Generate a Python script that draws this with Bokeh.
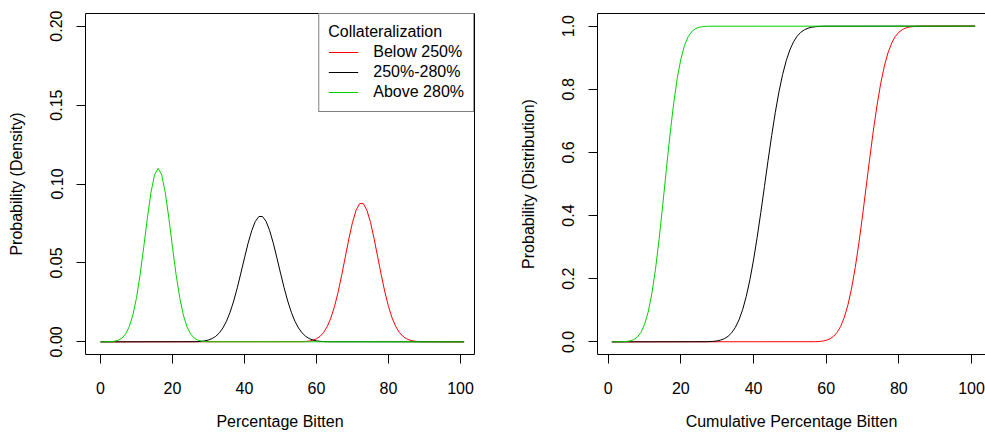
from bokeh.plotting import figure
from bokeh.models import Range1d, FixedTicker, LinearAxis, Legend, LegendItem, NumeralTickFormatter
from bokeh.layouts import row
from bokeh.embed import file_html
from bokeh.resources import INLINE

FONT = "Liberation Sans"

series_labels = ["Below 250%", "250%-280%", "Above 280%"]
series_colors = ["#ff0000", "#000000", "#00d000"]
legend_title = "Collateralization"

x_ticks = [0, 20, 40, 60, 80, 100]
density_ticks = [0.0, 0.05, 0.10, 0.15, 0.20]
cdf_ticks = [0.0, 0.2, 0.4, 0.6, 0.8, 1.0]

# ---- density panel ----
dens_below_x = [0] + list(range(56, 90)) + [101]
dens_below_y = [0.0,
                0.00012, 0.00025, 0.00053, 0.00104, 0.00196, 0.00351, 0.0060, 0.0098, 0.0152, 0.0224,
                0.0315, 0.0422, 0.0538, 0.0654, 0.0757, 0.0834, 0.0876, 0.0876, 0.0834, 0.0757,
                0.0654, 0.0538, 0.0422, 0.0315, 0.0224, 0.0152, 0.0098, 0.0060, 0.00351, 0.00196,
                0.00104, 0.00053, 0.00025, 0.00012,
                0.0]

dens_mid_x = [0] + list(range(26, 64)) + [101]
dens_mid_y = [0.0,
              0.00008, 0.00017, 0.00034, 0.00065, 0.00119, 0.00208, 0.00350, 0.00567, 0.0088, 0.0131,
              0.0188, 0.0259, 0.0343, 0.0436, 0.0532, 0.0625, 0.0704, 0.0763, 0.0794, 0.0794,
              0.0763, 0.0704, 0.0625, 0.0532, 0.0436, 0.0343, 0.0259, 0.0188, 0.0131, 0.0088,
              0.00567, 0.00350, 0.00208, 0.00119, 0.00065, 0.00034, 0.00017, 0.00008,
              0.0]

dens_above_x = [0] + list(range(2, 31)) + [101]
dens_above_y = [0.0,
                0.00006, 0.00018, 0.00047, 0.00111, 0.00247, 0.00508, 0.00968, 0.0171, 0.0280, 0.0426,
                0.0599, 0.0781, 0.0944, 0.1058, 0.1099, 0.1058, 0.0944, 0.0781, 0.0599, 0.0426,
                0.0280, 0.0171, 0.00968, 0.00508, 0.00247, 0.00111, 0.00047, 0.00018, 0.00006,
                0.0]

# ---- cumulative panel ----
cdf_below_x = [1] + list(range(57, 88)) + [101]
cdf_below_y = [0.0,
               0.00052, 0.00116, 0.00245, 0.00492, 0.0094, 0.0172, 0.0298, 0.0494, 0.0780, 0.1178,
               0.1703, 0.2355, 0.3128, 0.3990, 0.4907, 0.5828, 0.6707, 0.7499, 0.8178, 0.8729,
               0.9150, 0.9457, 0.9669, 0.9808, 0.9893, 0.9944, 0.9972, 0.99865, 0.99939, 0.99973,
               0.99989,
               1.0]

cdf_mid_x = [1] + list(range(27, 61)) + [101]
cdf_mid_y = [0.0,
             0.0004, 0.00083, 0.00166, 0.00318, 0.00585, 0.0104, 0.0177, 0.0290, 0.0458, 0.0696,
             0.1019, 0.1440, 0.1965, 0.2592, 0.3309, 0.4094, 0.4917, 0.5744, 0.6539, 0.7271,
             0.7918, 0.8464, 0.8905, 0.9247, 0.9501, 0.9681, 0.9804, 0.9884, 0.9934, 0.9964,
             0.9981, 0.99905, 0.99954, 0.9998,
             1.0]

cdf_above_x = [1] + list(range(4, 29)) + [101]
cdf_above_y = [0.0,
               0.00046, 0.00123, 0.00304, 0.0070, 0.0150, 0.0297, 0.0548, 0.0944, 0.1518, 0.2288,
               0.3238, 0.4321, 0.5455, 0.6554, 0.7537, 0.8343, 0.8956, 0.9386, 0.9663, 0.9827,
               0.9918, 0.9964, 0.9985, 0.99944, 0.9998,
               1.0]


def style_axis(ax, line=True, label_standoff=12, title_standoff=15):
    ax.axis_line_color = "black" if line else None
    ax.axis_line_width = 1
    ax.major_tick_line_color = "black"
    ax.major_tick_out = 9
    ax.major_tick_in = 0
    ax.minor_tick_line_color = None
    ax.major_label_text_font = FONT
    ax.major_label_text_font_size = "16px"
    ax.major_label_text_color = "black"
    ax.major_label_standoff = label_standoff
    ax.axis_label_text_font = FONT
    ax.axis_label_text_font_size = "16px"
    ax.axis_label_text_font_style = "normal"
    ax.axis_label_text_color = "black"
    ax.axis_label_standoff = title_standoff


# ---------------- left: density ----------------
p1 = figure(width=498, height=435, output_backend="svg", toolbar_location=None,
            x_range=Range1d(-4.17, 103.89), y_range=Range1d(-0.008, 0.208),
            x_axis_label="Percentage Bitten", y_axis_label="Probability (Density)",
            min_border_left=85, min_border_right=24, min_border_top=13, min_border_bottom=81)
p1.xgrid.visible = False
p1.ygrid.visible = False
p1.outline_line_color = "black"
p1.outline_line_width = 1
p1.background_fill_color = "white"
p1.border_fill_color = "white"
p1.xaxis.ticker = FixedTicker(ticks=x_ticks)
p1.yaxis.ticker = FixedTicker(ticks=density_ticks)
p1.yaxis.formatter = NumeralTickFormatter(format="0.00")
p1.yaxis.major_label_orientation = "vertical"
style_axis(p1.xaxis[0], line=False, label_standoff=18, title_standoff=16)
style_axis(p1.yaxis[0], line=False, label_standoff=14, title_standoff=23)

dens_sets = [(dens_below_x, dens_below_y), (dens_mid_x, dens_mid_y), (dens_above_x, dens_above_y)]
renderers = []
for (xs, ys), col in zip(dens_sets, series_colors):
    renderers.append(p1.line(xs, ys, line_color=col, line_width=1))

legend = Legend(items=[LegendItem(label=lab, renderers=[r]) for lab, r in zip(series_labels, renderers)],
                location="top_right", title=legend_title)
legend.margin = 0
legend.padding = 9
legend.spacing = 0
legend.border_line_color = "black"
legend.border_line_width = 1
legend.background_fill_color = "white"
legend.background_fill_alpha = 1
legend.label_height = 20
legend.glyph_height = 20
legend.glyph_width = 30
legend.label_standoff = 15
legend.title_standoff = 1
legend.label_text_font = FONT
legend.label_text_font_size = "16px"
legend.label_text_color = "black"
legend.title_text_font = FONT
legend.title_text_font_size = "16px"
legend.title_text_font_style = "normal"
legend.title_text_color = "black"
p1.add_layout(legend)

# ---------------- right: distribution ----------------
p2 = figure(width=487, height=435, output_backend="svg", toolbar_location=None,
            x_range=Range1d(-2.945, 103.85), y_range=Range1d(-0.04, 1.04),
            x_axis_label="Cumulative Percentage Bitten", y_axis_label="Probability (Distribution)",
            min_border_left=99, min_border_right=0, min_border_top=13, min_border_bottom=81)
p2.xgrid.visible = False
p2.ygrid.visible = False
p2.outline_line_color = None
p2.background_fill_color = "white"
p2.border_fill_color = "white"
p2.xaxis.ticker = FixedTicker(ticks=x_ticks)
p2.yaxis.ticker = FixedTicker(ticks=cdf_ticks)
p2.yaxis.formatter = NumeralTickFormatter(format="0.0")
p2.yaxis.major_label_orientation = "vertical"
style_axis(p2.xaxis[0], line=True, label_standoff=18, title_standoff=16)
style_axis(p2.yaxis[0], line=True, label_standoff=14, title_standoff=23)

top_axis = LinearAxis(ticker=FixedTicker(ticks=[]), major_label_text_font_size="0px",
                      axis_line_color="black", major_tick_line_color=None,
                      minor_tick_line_color=None)
p2.add_layout(top_axis, "above")

cdf_sets = [(cdf_below_x, cdf_below_y), (cdf_mid_x, cdf_mid_y), (cdf_above_x, cdf_above_y)]
for (xs, ys), col in zip(cdf_sets, series_colors):
    p2.line(xs, ys, line_color=col, line_width=1)

layout = row(p1, p2)
open("out.html", "w").write(file_html(layout, INLINE))
